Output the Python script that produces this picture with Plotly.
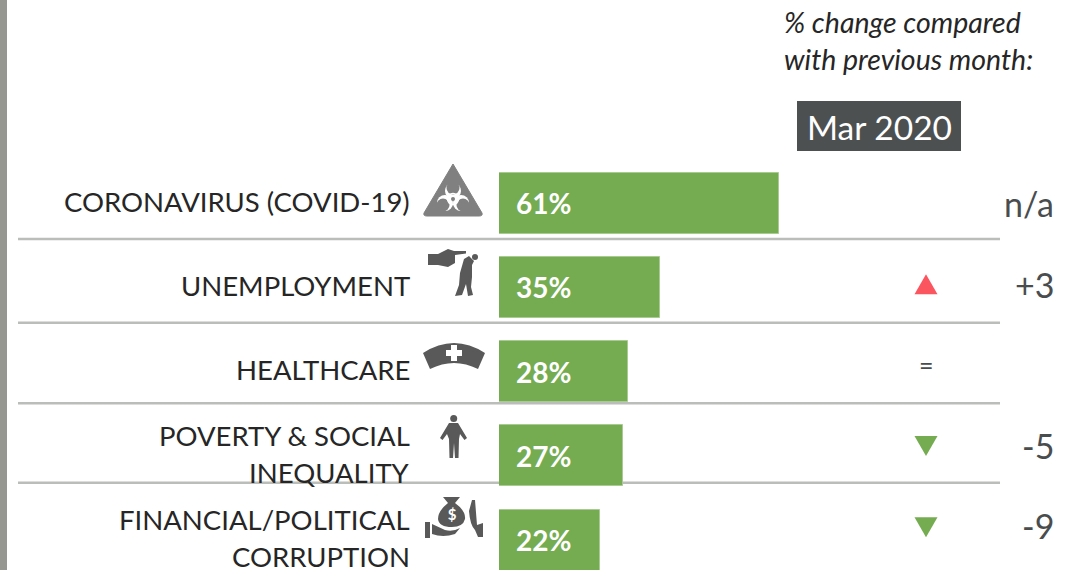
import base64
import plotly.graph_objects as go

categories = [["CORONAVIRUS (COVID-19)"], ["UNEMPLOYMENT"], ["HEALTHCARE"],
              ["POVERTY &amp; SOCIAL", "INEQUALITY"], ["FINANCIAL/POLITICAL", "CORRUPTION"]]
values = [61, 35, 28, 27, 22]
change_labels = ["n/a", "+3", "", "-5", "-9"]
change_marks = [None, "up", "same", "down", "down"]
month = "Mar 2020"
note = "<i>% change compared<br>with previous month:</i>"

W, H = 1073, 570
FONT = "Lato"
BAR = "#75AC52"
DARK = "#262626"
ICON = "#595959"

rows = list(range(len(categories)))
px_per_unit = 4.59
x0_px = 499
row0_px, row_px = 203, 84.3

x_range = [0, (W - x0_px) / px_per_unit]
y_range = [(H - row0_px) / row_px, -row0_px / row_px]


def svg_uri(body, w, h):
    s = f'<svg xmlns="http://www.w3.org/2000/svg" viewBox="0 0 {w} {h}" width="{w}" height="{h}">{body}</svg>'
    return "data:image/svg+xml;base64," + base64.b64encode(s.encode()).decode()


hazard = (
    '<path d="M30 1 L59 50 Q60 53 56 53 L4 53 Q0 53 1 50 Z" fill="#808080" stroke="#808080" stroke-linejoin="round"/>'
    '<circle cx="30" cy="28" r="8" fill="#fff"/><circle cx="30" cy="25" r="6.5" fill="#808080"/>'
    '<circle cx="22" cy="40" r="8" fill="#fff"/><circle cx="20" cy="42" r="6.5" fill="#808080"/>'
    '<circle cx="38" cy="40" r="8" fill="#fff"/><circle cx="40" cy="42" r="6.5" fill="#808080"/>'
    '<circle cx="30" cy="36" r="5.5" fill="none" stroke="#fff" stroke-width="1.5"/>'
    '<circle cx="30" cy="36" r="2" fill="#808080"/>'
)
pointing = (
    f'<g fill="{ICON}"><path d="M0 5 H10 L20 0 L26 2 H38 V4.5 L27 6 V14 L20 18 L10 16 H0 Z"/>'
    '<circle cx="47" cy="8" r="3"/>'
    '<path d="M41 7 L46 12 L44 16 L44 28 L43 38 L45 46 L40 47 L38 35 L34 46 L27 47 L31 36 L32 24 L36 10 Z"/></g>'
)
nurse = (
    f'<path d="M0 10 Q31 -10 62 10 L55 26 Q31 14 7 26 Z" fill="{ICON}"/>'
    '<path d="M28 2 H34 V7 H39 V13 H34 V18 H28 V13 H23 V7 H28 Z" fill="#fff"/>'
)
poor = (
    f'<g fill="{ICON}"><circle cx="13.7" cy="3.5" r="3.5"/>'
    '<path d="M9 8 H18 L27 23 L24.5 25 L20 19 L19 24 L18.5 43 H15 L14 28 L13 43 H9.5 L9 24 L7 19 L2.5 25 L0 23 Z"/></g>'
)
bribe = (
    f'<g fill="{ICON}"><path d="M18 0 L35 0 L30 6 Q41 14 40 22 Q38 30 27 30 Q14 30 13 22 Q13 14 23 6 Z"/>'
    '<path d="M0 25 H5 V41 H0 Z M7 27 L20 33 Q28 35 35 31 L30 37 Q18 41 7 37 Z"/>'
    '<path d="M47 3 L50 3 L52 28 L58 26 L58 40 L53 40 L50 33 Q45 28 44 14 Z"/></g>'
    '<text x="27" y="23" font-size="15" font-weight="bold" fill="#fff" text-anchor="middle" font-family="Lato">$</text>'
)
icons = [
    (hazard, 423, 163, 60, 54),
    (pointing, 428, 249, 52, 48),
    (nurse, 423, 343, 62, 26),
    (poor, 440, 415, 27, 43),
    (bribe, 425, 497, 58, 41),
]

fig = go.Figure()

fig.add_trace(go.Bar(
    x=values, y=rows, orientation="h", width=61 / row_px,
    marker=dict(color=BAR, line=dict(color="#A9CB93", width=1)),
    cliponaxis=False, showlegend=False, hoverinfo="skip",
))

annotations = []
label_center_px = [0, 0, 0, 0, -0.5]
line_gap_px = 37
for i, lines in enumerate(categories):
    for k, line in enumerate(lines):
        off = label_center_px[i] + (k - (len(lines) - 1) / 2) * line_gap_px - 2
        annotations.append(dict(x=411.5 / W, xref="paper", y=i, yref="y", yshift=-off,
                                text=line, showarrow=False, xanchor="right", yanchor="middle",
                                font=dict(family=FONT, size=27.5, color=DARK)))
for i, v in enumerate(values):
    annotations.append(dict(x=0, xref="x", y=i, yref="y", xshift=14.5, yshift=0, text=f"<b>{v}%</b>",
                            showarrow=False, xanchor="left", yanchor="middle",
                            font=dict(family=FONT, size=28, color="#FFFFFF")))

mark_x = (926 - x0_px) / px_per_unit
label_shift = [0, -3, 0, -10, -15]
for i, lab in enumerate(change_labels):
    if lab:
        annotations.append(dict(x=1056 / W, xref="paper", y=i, yref="y", yshift=-label_shift[i],
                                text=lab, showarrow=False, xanchor="right", yanchor="middle",
                                font=dict(family=FONT, size=34, color="#4A4D4E")))
for i, m in enumerate(change_marks):
    if m == "same":
        annotations.append(dict(x=mark_x, xref="x", y=i, yref="y", yshift=7, text="=", showarrow=False,
                                font=dict(family=FONT, size=25, color="#4A4D4E")))
annotations.append(dict(x=782 / W, xref="paper", y=1 - 40 / H, yref="paper", text=note, showarrow=False,
                        xanchor="left", yanchor="middle", align="left",
                        font=dict(family=FONT, size=28.5, color=DARK)))
annotations.append(dict(x=879.5 / W, xref="paper", y=1 - 127 / H, yref="paper", text=month, showarrow=False,
                        xanchor="center", yanchor="middle",
                        font=dict(family=FONT, size=33.5, color="#FFFFFF")))

shapes = [
    dict(type="rect", xref="paper", yref="paper", x0=0, x1=7 / W, y0=0, y1=1,
         fillcolor="#969791", line_width=0, layer="below"),
    dict(type="rect", xref="paper", yref="paper", x0=797 / W, x1=961 / W, y0=1 - 151 / H, y1=1 - 101 / H,
         fillcolor="#4D5051", line_width=0, layer="below"),
]
for y_px in (239, 322.7, 403.3, 482.7):
    shapes.append(dict(type="line", xref="paper", yref="paper", x0=18 / W, x1=1000 / W,
                       y0=1 - y_px / H, y1=1 - y_px / H, line=dict(color="#BBBDBA", width=2.5), layer="below"))

triangle = {"up": ("M-11.5,-10 L11.5,-10 L0,10 Z", "#FB5560"), "down": ("M-11.5,10 L11.5,10 L0,-10 Z", "#75AC52")}
mark_shift_px = {1: -3, 3: -10, 4: -13}
for i, m in enumerate(change_marks):
    if m in triangle:
        path, color = triangle[m]
        shapes.append(dict(type="path", xref="x", yref="y", xsizemode="pixel", ysizemode="pixel",
                           xanchor=mark_x, yanchor=i + mark_shift_px[i] / row_px,
                           path=path, fillcolor=color, line_width=0, layer="above"))

images = [dict(source=svg_uri(b, w, h), xref="paper", yref="paper", x=x / W, y=1 - y / H,
               sizex=w / W, sizey=h / H, xanchor="left", yanchor="top", layer="above")
          for b, x, y, w, h in icons]

fig.update_layout(
    width=W, height=H, autosize=False, margin=dict(l=0, r=0, t=0, b=0),
    paper_bgcolor="#FFFFFF", plot_bgcolor="rgba(0,0,0,0)",
    bargap=0, showlegend=False, shapes=shapes, annotations=annotations, images=images,
    xaxis=dict(domain=[x0_px / W, 1], range=x_range, visible=False, fixedrange=True),
    yaxis=dict(range=y_range, visible=False, fixedrange=True),
)

fig.write_html("out.html", config=dict(displayModeBar=False),
               post_script="document.body.style.margin='0';document.body.style.overflow='hidden';")
